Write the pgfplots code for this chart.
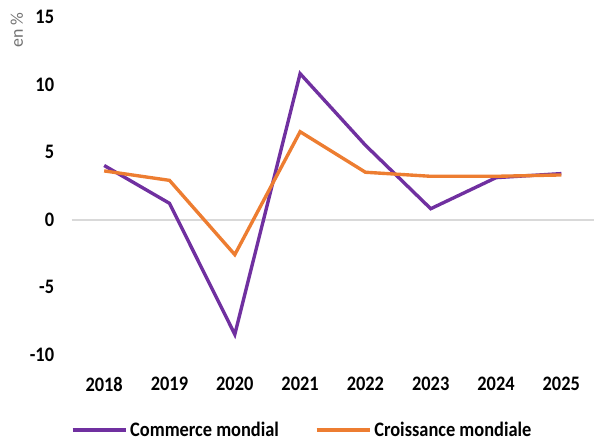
\documentclass[border=0pt]{standalone}
\usepackage{pgfplots}
\pgfplotsset{compat=1.18}
\usepackage{graphicx}
\usepackage{fontspec}
\setmainfont{Carlito}
\definecolor{trade}{HTML}{7030A0}
\definecolor{growth}{HTML}{ED7D31}
\definecolor{zeroline}{HTML}{D9D9D9}
\newcommand{\tall}[1]{\scalebox{1}[1.12]{#1}}
\begin{document}
\begin{tikzpicture}
\begin{axis}[
    scale only axis,
    width=526pt, height=340pt,
    xmin=2017.5, xmax=2025.5,
    ymin=-10, ymax=15,
    xtick={2018,...,2025},
    ytick={-10,-5,0,5,10,15},
    axis line style={draw=none},
    major tick length=0pt,
    /pgf/number format/assume math mode=true,
    /pgf/number format/set thousands separator={},
    tick label style={font=\fontsize{18.5}{20}\selectfont\bfseries, text=black},
    xticklabel={\tall{\pgfmathprintnumber{\tick}}},
    yticklabel={\tall{\pgfmathprintnumber{\tick}}},
    xticklabel style={yshift=-19pt},
    yticklabel style={xshift=-14pt},
    legend style={
        at={(232pt,-76pt)}, anchor=center,
        draw=none, fill=none,
        legend columns=2,
        font=\fontsize{18.5}{20}\selectfont\bfseries,
        /tikz/every even column/.append style={column sep=34pt},
    },
    legend image code/.code={\draw[#1, line width=4pt] (0pt,0pt) -- (54pt,0pt);},
    clip=false,
]
\addplot[zeroline, line width=2pt, forget plot] coordinates {(2017.5,0) (2025.5,0)};
\addplot[trade, line width=3.4pt] coordinates {
    (2018,4.0) (2019,1.2) (2020,-8.5) (2021,10.8) (2022,5.5) (2023,0.8) (2024,3.1) (2025,3.4)
};
\addlegendentry{\tall{Commerce mondial}}
\addplot[growth, line width=3.4pt] coordinates {
    (2018,3.6) (2019,2.9) (2020,-2.6) (2021,6.5) (2022,3.5) (2023,3.2) (2024,3.2) (2025,3.3)
};
\addlegendentry{\tall{Croissance mondiale}}
\end{axis}
\node[rotate=90, text=black!55, font=\fontsize{18}{20}\selectfont] at (-55pt,327pt) {en \%};
\path[use as bounding box] (-72pt,-82pt) rectangle (523pt,357pt);
\end{tikzpicture}
\end{document}
